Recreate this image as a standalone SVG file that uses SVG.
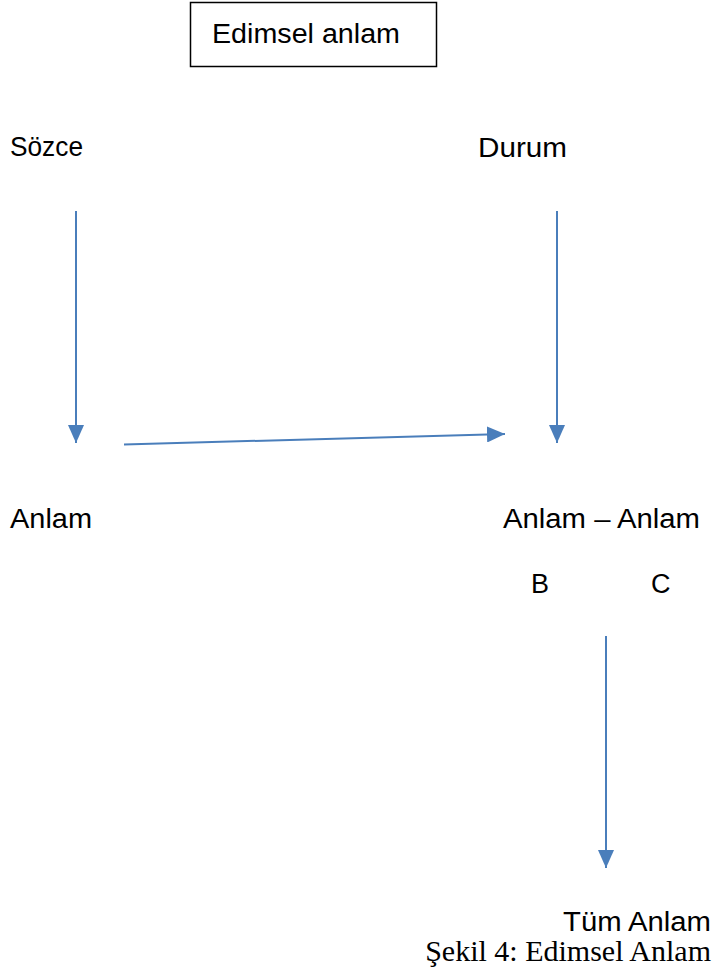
<svg xmlns="http://www.w3.org/2000/svg" width="713" height="972" viewBox="0 0 713 972">
<defs>
<style>
.t{font-family:"Liberation Sans","DejaVu Sans",sans-serif;font-size:27px;fill:#000}
.cap{font-family:"Liberation Serif","Times New Roman",serif;font-size:30px;fill:#000}
.c{stroke:#4a7ebb;stroke-width:2;fill:none}
</style>
<marker id="ah2" viewBox="0 0 18 16" refX="18" refY="8" markerWidth="18" markerHeight="16" markerUnits="userSpaceOnUse" orient="auto">
<path d="M0,0 L18,8 L0,16 z" fill="#4a7ebb"/>
</marker>
</defs>
<g id="title">
<rect x="190.5" y="2.5" width="246" height="64" fill="#fff" stroke="#000" stroke-width="1.5"/>
<text class="t" x="212" y="43" textLength="188" lengthAdjust="spacingAndGlyphs">Edimsel anlam</text>
</g>
<g id="sozce"><text class="t" x="10" y="156" textLength="73" lengthAdjust="spacingAndGlyphs">Sözce</text></g>
<g id="durum"><text class="t" x="478" y="157" textLength="89" lengthAdjust="spacingAndGlyphs">Durum</text></g>
<g id="anlam"><text class="t" x="10" y="528" textLength="82" lengthAdjust="spacingAndGlyphs">Anlam</text></g>
<g id="anlam-anlam"><text class="t" x="503" y="528" textLength="197" lengthAdjust="spacingAndGlyphs">Anlam – Anlam</text></g>
<g id="b"><text class="t" x="531" y="593">B</text></g>
<g id="c"><text class="t" x="651" y="593">C</text></g>
<g id="tum-anlam"><text class="t" x="563" y="931" textLength="148" lengthAdjust="spacingAndGlyphs">Tüm Anlam</text></g>
<g id="caption"><text class="cap" x="711" y="961" text-anchor="end">Şekil 4: Edimsel Anlam</text></g>
<g id="connectors">
<line class="c" x1="76" y1="211" x2="76" y2="443" marker-end="url(#ah2)"/>
<line class="c" x1="557" y1="211" x2="557" y2="443" marker-end="url(#ah2)"/>
<line class="c" x1="124" y1="444.5" x2="505" y2="434" marker-end="url(#ah2)"/>
<line class="c" x1="606" y1="636" x2="606" y2="868" marker-end="url(#ah2)"/>
</g>
</svg>
